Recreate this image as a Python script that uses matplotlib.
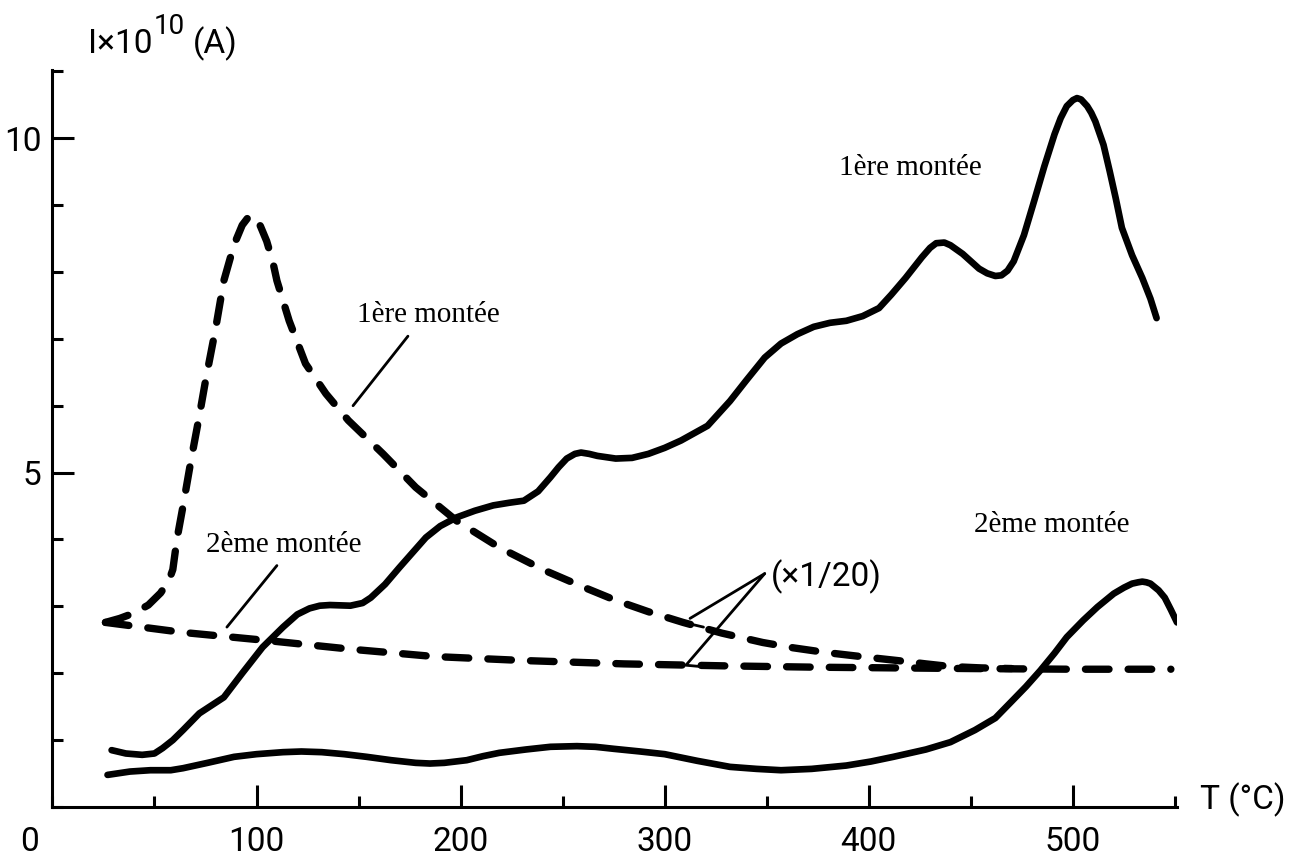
import matplotlib
matplotlib.use("Agg")
import matplotlib.pyplot as plt
from matplotlib.ticker import MultipleLocator, FixedLocator

W, H = 1316, 861

# ---- data (T in °C, I x 1e10 A) ----
t_solid1 = [29, 36, 44, 50, 54, 59, 64, 72, 78, 84, 93, 103, 113, 120, 126, 131, 136, 146,
            152, 156, 163, 170, 183, 190, 198, 207, 216, 224, 231, 238, 244, 248, 252,
            256, 259, 263, 267, 276, 284, 292, 300, 308, 321, 332, 340, 349, 357, 365,
            373, 381, 389, 397, 405, 411, 418, 426, 430, 433, 437, 440, 446, 454, 458,
            462, 465, 468, 471, 476, 481, 486, 491, 494, 497, 500, 502, 504, 507, 509,
            511, 515, 518, 521, 524, 529, 534, 538, 541]
i_solid1 = [0.85, 0.80, 0.78, 0.80, 0.88, 1.00, 1.15, 1.40, 1.52, 1.64, 2.00, 2.39, 2.69,
            2.88, 2.97, 3.01, 3.02, 3.01, 3.05, 3.13, 3.33, 3.58, 4.03, 4.20, 4.33, 4.43,
            4.51, 4.55, 4.58, 4.72, 4.93, 5.08, 5.21, 5.28, 5.30, 5.28, 5.25, 5.21, 5.22,
            5.28, 5.37, 5.48, 5.70, 6.07, 6.38, 6.72, 6.93, 7.07, 7.18, 7.24, 7.27, 7.34,
            7.46, 7.66, 7.91, 8.22, 8.36, 8.43, 8.44, 8.40, 8.27, 8.05, 7.98, 7.94, 7.95,
            8.02, 8.16, 8.55, 9.06, 9.58, 10.06, 10.30, 10.48, 10.57, 10.60, 10.58, 10.48,
            10.38, 10.25, 9.90, 9.51, 9.10, 8.66, 8.25, 7.91, 7.60, 7.31]

t_solid2 = [27, 38, 48, 58, 64, 76, 89, 100, 113, 122, 132, 143, 154, 166, 178, 185, 192,
            203, 211, 219, 232, 244, 257, 266, 275, 288, 300, 316, 332, 345, 357, 372,
            389, 401, 412, 428, 440, 452, 462, 470, 477, 484, 491, 497, 505, 512, 520,
            525, 529, 532, 534, 536, 538, 542, 545, 548, 551]
i_solid2 = [0.48, 0.53, 0.55, 0.55, 0.58, 0.66, 0.75, 0.79, 0.82, 0.83, 0.82, 0.79, 0.75,
            0.70, 0.66, 0.65, 0.66, 0.70, 0.76, 0.81, 0.86, 0.90, 0.91, 0.90, 0.87, 0.83,
            0.79, 0.69, 0.60, 0.57, 0.55, 0.57, 0.62, 0.68, 0.75, 0.86, 0.97, 1.15, 1.33,
            1.58, 1.80, 2.04, 2.30, 2.54, 2.79, 2.99, 3.19, 3.28, 3.34, 3.36, 3.37, 3.36,
            3.34, 3.24, 3.13, 2.95, 2.76]

t_dash1 = [26, 33, 40, 47, 53, 57, 59, 61, 64, 66, 68, 72, 75, 80, 84, 88, 90, 93, 96, 98,
           100, 102, 105, 108, 110, 116, 124, 134, 145, 162, 178, 198, 219, 241, 260, 276,
           292, 309, 328, 348, 363, 379, 396, 414, 428, 440, 455, 470]
i_dash1 = [2.76, 2.82, 2.90, 3.02, 3.20, 3.38, 3.55, 4.00, 4.50, 4.85, 5.20, 5.85, 6.37,
           7.16, 7.87, 8.30, 8.48, 8.70, 8.82, 8.84, 8.80, 8.68, 8.46, 8.15, 7.87, 7.27,
           6.63, 6.18, 5.78, 5.28, 4.78, 4.28, 3.88, 3.54, 3.29, 3.09, 2.92, 2.76, 2.60,
           2.46, 2.38, 2.31, 2.25, 2.19, 2.14, 2.10, 2.08, 2.07]

t_dash2 = [26, 64, 105, 146, 187, 231, 280, 330, 375, 450, 500, 548]
i_dash2 = [2.76, 2.61, 2.49, 2.36, 2.25, 2.19, 2.14, 2.11, 2.09, 2.07, 2.06, 2.06]

x_major = [100, 200, 300, 400, 500]
x_labels = ["100", "200", "300", "400", "500"]
y_major = [5, 10]
y_labels = ["5", "10"]

SANS = ["Roboto", "DejaVu Sans"]
SERIF = ["Liberation Serif", "DejaVu Serif"]
FS = 24

fig = plt.figure(figsize=(W / 100, H / 100), dpi=100)
ax = fig.add_axes([52.4 / W, 1 - 807 / H, (1177 - 52.4) / W, (807 - 70) / H])
ax.set_xlim(0, 551)
ax.set_ylim(0, 11.02)

k = "black"
ax.plot(t_solid1, i_solid1, color=k, lw=4.8, solid_capstyle="round", solid_joinstyle="round")
ax.plot(t_solid2, i_solid2, color=k, lw=4.8, solid_capstyle="round", solid_joinstyle="round")
ax.plot(t_dash1, i_dash1, color=k, lw=5.3, dashes=(3.2, 2.6), dash_capstyle="round",
        dash_joinstyle="round")
ax.plot(t_dash2, i_dash2, color=k, lw=5.3, dashes=(3.2, 2.6), dash_capstyle="round",
        dash_joinstyle="round")

for s in ["top", "right"]:
    ax.spines[s].set_visible(False)
for s in ["left", "bottom"]:
    ax.spines[s].set_linewidth(2.2)

ax.xaxis.set_major_locator(FixedLocator(x_major))
ax.set_xticklabels(x_labels)
ax.xaxis.set_minor_locator(MultipleLocator(50))
ax.yaxis.set_major_locator(FixedLocator(y_major))
ax.set_yticklabels(y_labels)
ax.yaxis.set_minor_locator(MultipleLocator(1))
ax.tick_params(which="major", direction="in", length=16, width=2.2)
ax.tick_params(which="minor", direction="in", length=8, width=2.2)
ax.tick_params(axis="x", which="major", pad=14)
ax.tick_params(axis="y", which="major", pad=8)
for lab in ax.get_xticklabels() + ax.get_yticklabels():
    lab.set_fontfamily(SANS)
    lab.set_fontsize(FS)


def fp(x, y):
    return x / W, 1 - y / H


# axis titles: I x 10^10 (A), built from pieces measured at draw time
renderer = fig.canvas.get_renderer()
t1 = fig.text(*fp(88, 53), "I×10", fontsize=FS, family=SANS, ha="left", va="baseline")
bb = t1.get_window_extent(renderer)
t2 = fig.text((bb.x1 + 1) / W, 1 - 34 / H, "10", fontsize=20, family=SANS, ha="left",
              va="baseline")
bb2 = t2.get_window_extent(renderer)
fig.text((bb2.x1 + 8) / W, 1 - 53 / H, "(A)", fontsize=FS, family=SANS, ha="left",
         va="baseline")
fig.text(*fp(1200, 800), "T (°C)", fontsize=FS, family=SANS, ha="left", va="center")
fig.text(*fp(30, 842), "0", fontsize=FS, family=SANS, ha="center", va="center")

# curve labels
fig.text(*fp(428, 315), "1ère montée", fontsize=21, family=SERIF, ha="center", va="center")
fig.text(*fp(284, 545), "2ème montée", fontsize=21, family=SERIF, ha="center", va="center")
fig.text(*fp(910, 168), "1ère montée", fontsize=21, family=SERIF, ha="center", va="center")
fig.text(*fp(1052, 525), "2ème montée", fontsize=21, family=SERIF, ha="center", va="center")
fig.text(*fp(826, 577), "(×1/20)", fontsize=FS, family=SANS, ha="center", va="center")

# leader lines (data coordinates)
lead = dict(color=k, lw=2.0, solid_capstyle="round")
ax.plot([174.2, 147.3], [7.04, 6.00], **lead)
ax.plot([110.0, 85.5], [3.61, 2.69], **lead)
ax.plot([349.0, 312.4], [3.49, 2.82], **lead)
ax.plot([305.0, 319.0], [2.79, 2.69], **lead)
ax.plot([349.0, 310.4, 321.2], [3.49, 2.12, 2.09], **lead)

fig.savefig("out.png", dpi=100)
